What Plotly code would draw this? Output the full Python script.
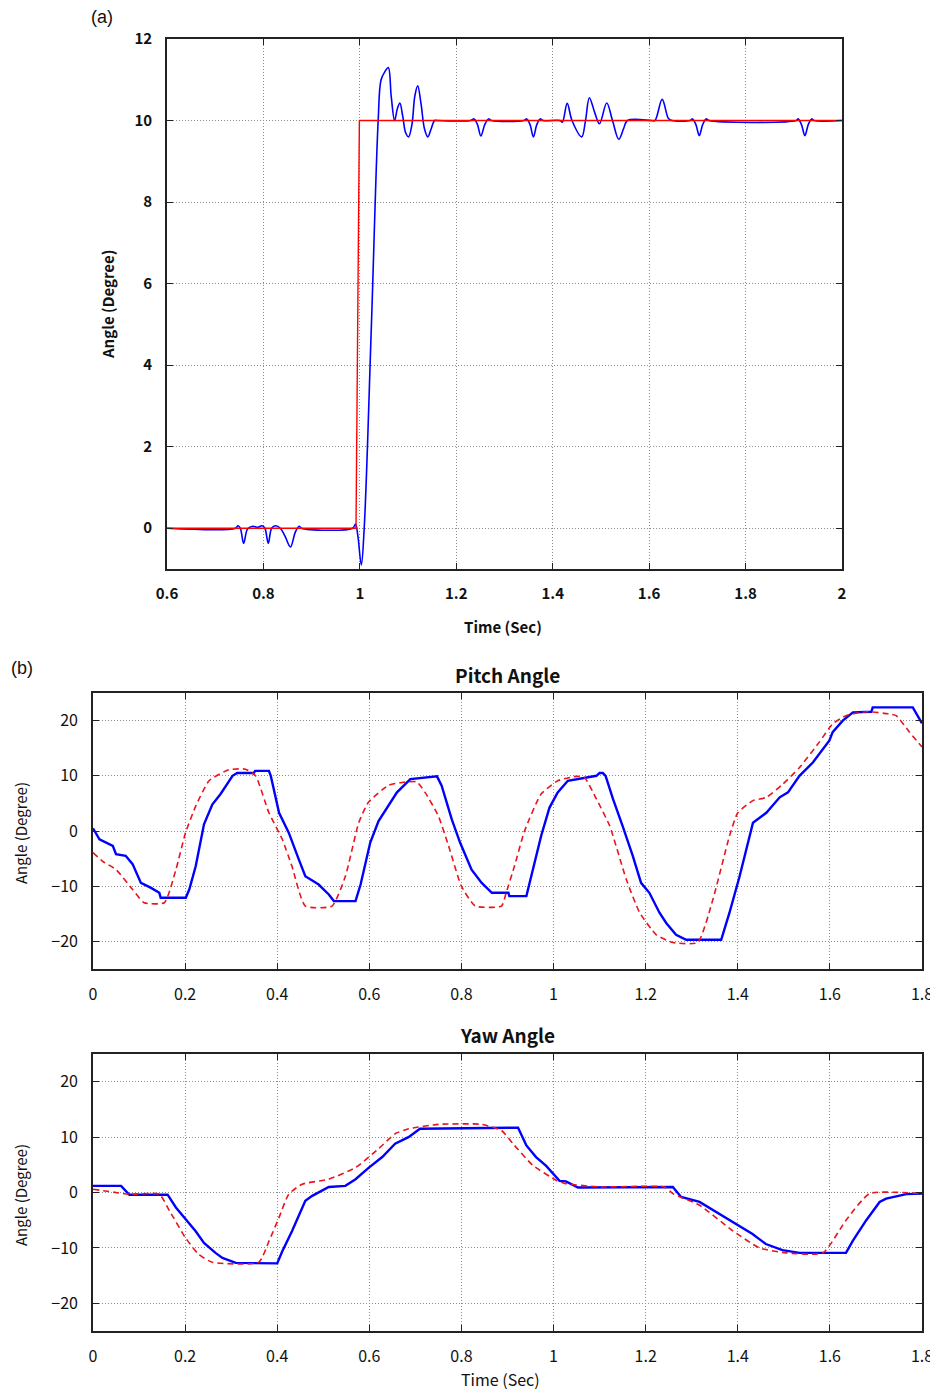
import plotly.graph_objects as go

# ---------------- Panel (a): step response ----------------
a_ref_t = [0.6, 0.992, 0.999, 2.0]
a_ref_v = [0.0, 0.0, 10.0, 10.0]

a_resp_t = [0.6, 0.742, 0.747, 0.752, 0.759, 0.767, 0.778, 0.788, 0.797, 0.803, 0.810, 0.817,
            0.825, 0.835, 0.845, 0.856, 0.866, 0.874, 0.879,
            0.985, 0.991, 0.996, 1.003, 1.009, 1.024, 1.038, 1.044, 1.052, 1.059, 1.065, 1.072,
            1.078, 1.083, 1.089, 1.095, 1.101, 1.108, 1.114, 1.120, 1.127, 1.134, 1.141, 1.148,
            1.155, 1.16,
            1.230, 1.237, 1.244, 1.251, 1.259, 1.267, 1.273,
            1.340, 1.346, 1.353, 1.360, 1.367, 1.374, 1.380,
            1.415, 1.420, 1.430, 1.440, 1.460, 1.468, 1.476, 1.487, 1.497, 1.512, 1.524, 1.537,
            1.547, 1.555,
            1.605, 1.612, 1.627, 1.640, 1.647,
            1.685, 1.690, 1.697, 1.704, 1.711, 1.718, 1.724,
            1.905, 1.909, 1.916, 1.923, 1.930, 1.937, 1.942, 2.0]
a_resp_v = [0.0, 0.0, 0.06, 0.0, -0.37, -0.02, 0.05, 0.02, 0.06, 0.0, -0.37, 0.0,
            0.06, 0.0, -0.2, -0.46, -0.1, 0.05, 0.0,
            0.0, 0.1, -0.2, -0.9, 0.0, 5.0, 10.0, 11.0, 11.2, 11.3, 10.6, 10.0,
            10.3, 10.43, 10.1, 9.7, 9.6, 9.9, 10.6, 10.85, 10.4, 9.8, 9.6, 9.8,
            10.0, 10.0,
            10.0, 10.04, 9.9, 9.62, 9.9, 10.04, 10.0,
            10.0, 10.04, 9.9, 9.6, 9.9, 10.04, 10.0,
            10.0, 9.96, 10.42, 10.0, 9.6, 10.0, 10.56, 10.2, 9.92, 10.43, 10.0, 9.54,
            9.8, 10.0,
            10.0, 10.0, 10.52, 10.05, 10.0,
            10.0, 10.04, 9.9, 9.63, 9.9, 10.04, 10.0,
            10.0, 10.04, 9.9, 9.63, 9.9, 10.04, 10.0, 10.0]

a_xticks = [0.6, 0.8, 1.0, 1.2, 1.4, 1.6, 1.8, 2.0]
a_xticklabels = ["0.6", "0.8", "1", "1.2", "1.4", "1.6", "1.8", "2"]
a_yticks = [0, 2, 4, 6, 8, 10, 12]

# ---------------- Panel (b): pitch ----------------
pitch_meas_t = [0.0, 0.014, 0.043, 0.05, 0.071, 0.086, 0.104, 0.126, 0.144, 0.147, 0.2015,
                0.209, 0.223, 0.241, 0.259, 0.277, 0.303, 0.313, 0.349, 0.352, 0.382, 0.386,
                0.404, 0.425, 0.447, 0.461, 0.49, 0.512, 0.523, 0.57, 0.581, 0.602, 0.62,
                0.642, 0.66, 0.689, 0.747, 0.757, 0.779, 0.797, 0.822, 0.844, 0.866, 0.902,
                0.904, 0.941, 0.955, 0.973, 0.991, 1.009, 1.031, 1.056, 1.093, 1.100, 1.107,
                1.113, 1.129, 1.15, 1.172, 1.19, 1.208, 1.23, 1.245, 1.266, 1.288, 1.364,
                1.382, 1.404, 1.433, 1.462, 1.491, 1.509, 1.534, 1.563, 1.599, 1.606, 1.628,
                1.65, 1.69, 1.693, 1.78, 1.8]
pitch_meas_v = [0.5, -1.5, -2.7, -4.2, -4.5, -6.0, -9.4, -10.3, -11.2, -12.1, -12.1,
                -10.6, -6.4, 1.2, 4.8, 6.7, 10.0, 10.5, 10.5, 10.9, 10.9, 10.0,
                3.3, -0.3, -5.2, -8.2, -9.7, -11.5, -12.7, -12.7, -9.7, -2.1, 1.8,
                4.8, 7.0, 9.4, 9.9, 8.2, 2.1, -2.1, -7.0, -9.4, -11.2, -11.2,
                -11.8, -11.8, -7.0, -0.9, 4.2, 7.0, 9.1, 9.5, 10.0, 10.5, 10.5,
                10.0, 5.8, 0.9, -4.5, -9.4, -11.2, -14.8, -16.7, -18.8, -19.7, -19.7,
                -14.8, -8.2, 1.5, 3.3, 6.1, 7.0, 10.0, 12.4, 16.4, 17.9, 20.0,
                21.5, 21.6, 22.4, 22.4, 19.5]

pitch_ref_t = [0.0, 0.021, 0.05, 0.086, 0.111, 0.155, 0.18, 0.201, 0.223, 0.252, 0.295,
               0.331, 0.353, 0.382, 0.411, 0.432, 0.461, 0.519, 0.548, 0.577, 0.598,
               0.642, 0.671, 0.703, 0.721, 0.75, 0.772, 0.8, 0.83, 0.887, 0.897, 0.915,
               0.937, 0.973, 1.009, 1.049, 1.067, 1.093, 1.122, 1.158, 1.187, 1.223,
               1.259, 1.313, 1.346, 1.382, 1.4, 1.433, 1.462, 1.498, 1.534, 1.577,
               1.606, 1.635, 1.679, 1.73, 1.744, 1.773, 1.8]
pitch_ref_v = [-3.9, -5.5, -7.0, -10.6, -13.0, -13.0, -7.0, -0.3, 4.5, 9.1, 11.1,
               11.2, 10.0, 3.3, -1.5, -6.4, -13.6, -13.6, -8.2, 1.5, 5.2,
               8.3, 8.8, 8.9, 7.0, 2.7, -2.7, -10.0, -13.6, -13.6, -11.2, -6.4,
               0.0, 6.7, 9.1, 9.9, 9.7, 5.8, 0.9, -8.8, -14.8, -18.8,
               -20.2, -20.2, -12.4, -0.9, 3.3, 5.5, 6.1, 8.5, 11.5, 16.1,
               19.4, 20.9, 21.6, 21.2, 20.9, 17.9, 15.2]

# ---------------- Panel (b): yaw ----------------
yaw_meas_t = [0.0, 0.061, 0.079, 0.162, 0.18, 0.201, 0.223, 0.241, 0.266, 0.281, 0.31,
              0.4, 0.411, 0.432, 0.461, 0.476, 0.512, 0.548, 0.57, 0.599, 0.628, 0.656,
              0.685, 0.71, 0.88, 0.923, 0.941, 0.962, 0.984, 1.013, 1.027, 1.053, 1.259,
              1.277, 1.317, 1.346, 1.389, 1.432, 1.461, 1.497, 1.534, 1.635, 1.65, 1.679,
              1.708, 1.722, 1.766, 1.8]
yaw_meas_v = [1.2, 1.2, -0.4, -0.4, -2.7, -4.8, -7.0, -9.1, -10.9, -11.8, -12.7,
              -12.8, -10.6, -7.0, -1.5, -0.6, 1.0, 1.2, 2.4, 4.5, 6.4, 8.8,
              10.0, 11.5, 11.6, 11.7, 8.5, 6.4, 4.8, 2.1, 2.0, 0.9, 1.0,
              -0.8, -1.7, -3.2, -5.3, -7.5, -9.3, -10.4, -10.9, -10.9, -8.7, -5.0,
              -1.7, -1.1, -0.3, -0.2]

yaw_ref_t = [0.0, 0.079, 0.144, 0.166, 0.201, 0.23, 0.259, 0.36, 0.382, 0.404, 0.425,
             0.454, 0.512, 0.57, 0.62, 0.656, 0.685, 0.75, 0.844, 0.887, 0.912, 0.955,
             1.006, 1.027, 1.1, 1.241, 1.259, 1.317, 1.389, 1.447, 1.505, 1.585, 1.635,
             1.686, 1.8]
yaw_ref_v = [0.6, -0.3, -0.3, -3.3, -8.2, -11.2, -12.6, -12.6, -8.8, -4.5, -0.3,
             1.5, 2.4, 4.5, 7.9, 10.6, 11.5, 12.3, 12.3, 11.2, 8.8, 4.9,
             2.2, 1.6, 1.0, 1.0, -0.2, -2.3, -6.9, -10.0, -10.9, -10.9, -5.0,
             -0.2, -0.2]

b_xticks = [0, 0.2, 0.4, 0.6, 0.8, 1.0, 1.2, 1.4, 1.6, 1.8]
b_xticklabels = ["0", "0.2", "0.4", "0.6", "0.8", "1", "1.2", "1.4", "1.6", "1.8"]
b_yticks = [-20, -10, 0, 10, 20]

# ---------------- figure ----------------
W, H = 938, 1390
OFF = 8  # page body margin
BLUE = "#0000FF"
RED = "#FF0000"
RED_D = "#E8141E"
JP = "Noto Sans CJK JP, Liberation Sans, sans-serif"

def px(xpix):
    return (xpix - OFF) / W

def py(ypix):
    return 1 - (ypix - OFF) / H

fig = go.Figure()

fig.add_trace(go.Scatter(x=a_resp_t, y=a_resp_v, mode="lines", xaxis="x", yaxis="y",
                         line=dict(color=BLUE, width=1.6, shape="spline", smoothing=1.0),
                         showlegend=False))
fig.add_trace(go.Scatter(x=a_ref_t, y=a_ref_v, mode="lines", xaxis="x", yaxis="y",
                         line=dict(color=RED, width=1.4), showlegend=False))

fig.add_trace(go.Scatter(x=pitch_meas_t, y=pitch_meas_v, mode="lines", xaxis="x2", yaxis="y2",
                         line=dict(color=BLUE, width=2.4), showlegend=False))
fig.add_trace(go.Scatter(x=pitch_ref_t, y=pitch_ref_v, mode="lines", xaxis="x2", yaxis="y2",
                         line=dict(color=RED_D, width=1.6, dash="6px,4px", shape="spline", smoothing=0.5),
                         showlegend=False))

fig.add_trace(go.Scatter(x=yaw_meas_t, y=yaw_meas_v, mode="lines", xaxis="x3", yaxis="y3",
                         line=dict(color=BLUE, width=2.4), showlegend=False))
fig.add_trace(go.Scatter(x=yaw_ref_t, y=yaw_ref_v, mode="lines", xaxis="x3", yaxis="y3",
                         line=dict(color=RED_D, width=1.6, dash="6px,4px", shape="spline", smoothing=0.5),
                         showlegend=False))

grid = dict(showgrid=True, gridcolor="#8c8c8c", griddash="1px,2px", gridwidth=1,
            showline=True, linecolor="#222222", linewidth=1.6, mirror="allticks",
            ticks="inside", ticklen=6, tickcolor="#222222", zeroline=False,
            automargin=False)

fa_tick = dict(family=JP, size=15, color="#111111", weight="bold")
fb_tick = dict(family=JP, size=16, color="#111111")

fig.update_layout(
    template="none",
    width=W, height=H, margin=dict(l=0, r=0, t=0, b=0, pad=0, autoexpand=False),
    paper_bgcolor="white", plot_bgcolor="white",
    xaxis=dict(domain=[px(167), px(842)], anchor="y", range=[0.6, 2.0],
               tickvals=a_xticks, ticktext=a_xticklabels, tickfont=fa_tick,
               ticklabelstandoff=10, **grid),
    yaxis=dict(domain=[py(569), py(39)], anchor="x", range=[-1, 12],
               tickvals=a_yticks, tickfont=fa_tick, ticklabelstandoff=10, **grid),
    xaxis2=dict(domain=[px(93), px(922)], anchor="y2", range=[0, 1.8],
                tickvals=b_xticks, ticktext=b_xticklabels, tickfont=fb_tick,
                ticklabelstandoff=10, **grid),
    yaxis2=dict(domain=[py(969), py(693)], anchor="x2", range=[-25, 25],
                tickvals=b_yticks, tickfont=fb_tick, ticklabelstandoff=10, **grid),
    xaxis3=dict(domain=[px(93), px(922)], anchor="y3", range=[0, 1.8],
                tickvals=b_xticks, ticktext=b_xticklabels, tickfont=fb_tick,
                ticklabelstandoff=10, **grid),
    yaxis3=dict(domain=[py(1331), py(1054)], anchor="x3", range=[-25, 25],
                tickvals=b_yticks, tickfont=fb_tick, ticklabelstandoff=10, **grid),
)

def ann(text, x, y, size, bold=False, angle=0, family=JP, xanchor="center"):
    fig.add_annotation(text=text, x=px(x), y=py(y), xref="paper", yref="paper",
                       showarrow=False, textangle=angle, xanchor=xanchor, yanchor="middle",
                       font=dict(family=family, size=size, color="#111111",
                                 weight="bold" if bold else "normal"))

ann("(a)", 102, 17, 18, family="Liberation Sans, Arial, sans-serif")
ann("(b)", 22, 668, 18, family="Liberation Sans, Arial, sans-serif")
ann("Angle (Degree)", 107, 305, 15, bold=True, angle=-90)
ann("Time (Sec)", 503, 627, 15, bold=True)
ann("Pitch Angle", 507, 674, 19, bold=True)
ann("Angle (Degree)", 20, 833, 15, angle=-90)
ann("Yaw Angle", 507, 1034, 19, bold=True)
ann("Angle (Degree)", 20, 1195, 15, angle=-90)
ann("Time (Sec)", 500, 1379, 16)

fig.write_html("out.html")
